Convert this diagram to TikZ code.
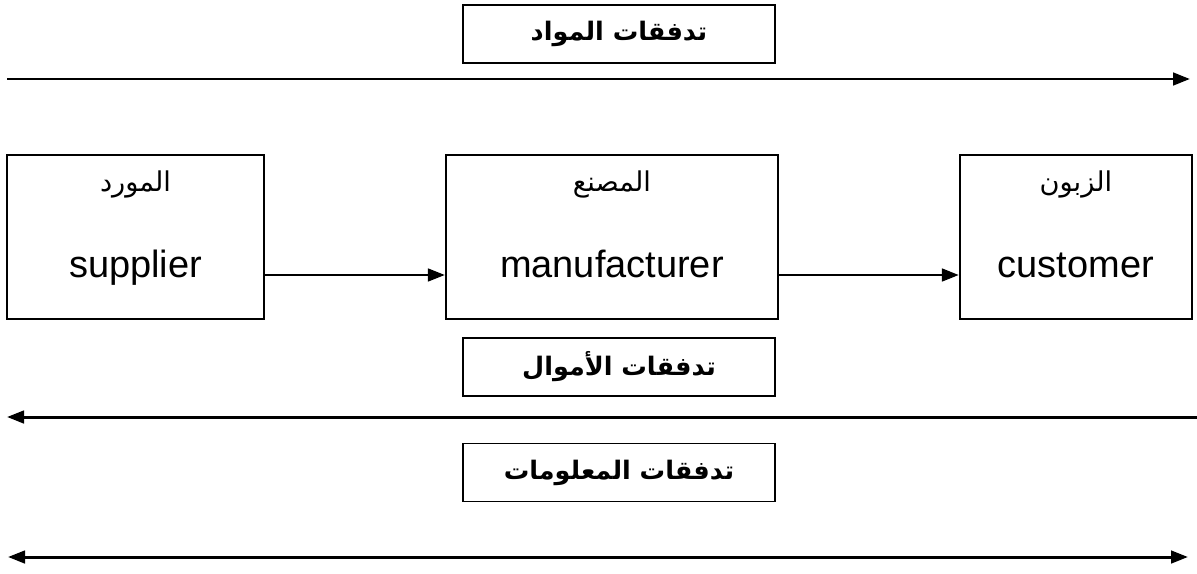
\documentclass[tikz,border=0pt]{standalone}
\usepackage{fontspec}
\setmainfont{Liberation Sans}
\newfontfamily\arfont[Script=Arabic]{DejaVu Sans}
\TeXXeTstate=1
\usetikzlibrary{chains,positioning,arrows.meta}

\newcommand\partytext[2]{{\arfont\fontsize{15.5}{18}\selectfont\beginR #1\endR}\\[23pt]#2\rule[-15pt]{0pt}{30pt}}

\begin{document}
\begin{tikzpicture}[
party/.style={
	draw, rectangle, line width=1.1pt,
	minimum height=3.28cm, inner sep=0pt,
	align=center, text=black,
	font=\fontsize{21.6}{26}\selectfont
},
flow/.style={
	draw, rectangle, line width=1.1pt,
	minimum width=6.24cm, minimum height=1.16cm,
	inner sep=0pt, text=black,
	font=\arfont\bfseries\fontsize{14.5}{16}\selectfont
},
>={Triangle[length=0.34cm,width=0.25cm]}, line width=1.7pt,
start chain, node distance=3.6cm
]
\useasboundingbox (0,0) rectangle (23.94,-11.46);
\node[party,on chain,minimum width=5.14cm] (1) at (2.71,-4.74)
	{\partytext{المورد}{supplier}};
\node[party,on chain,minimum width=6.64cm] (2)
	{\partytext{المصنع}{manufacturer}};
\node[party,on chain,minimum width=4.64cm] (3)
	{\partytext{الزبون}{customer}};
\foreach \i in {1,2}
{
	\pgfmathsetmacro\next{int(\i + 1)}
	\draw[->] ([yshift=-0.76cm]\i.east) -- ([yshift=-0.76cm]\next .west);
}
% flows
\node[flow] (M) at (12.38,-0.68) {\beginR تدفقات المواد\endR};
\coordinate (m0) at (0.14,-1.58);
\coordinate (m1) at (23.8,-1.58);
\draw[->] (m0) -- (m1);
\node[flow] (F) at (12.38,-7.34) {\beginR تدفقات الأموال\endR};
\coordinate (f0) at (23.94,-8.34);
\coordinate (f1) at (0.14,-8.34);
\draw[->] (f0) -- (f1);
\node[flow] (I) at (12.38,-9.45) {\beginR تدفقات المعلومات\endR};
\coordinate (i0) at (0.16,-11.14);
\coordinate (i1) at (23.76,-11.14);
\draw[<->] (i0) -- (i1);
\end{tikzpicture}
\end{document}
